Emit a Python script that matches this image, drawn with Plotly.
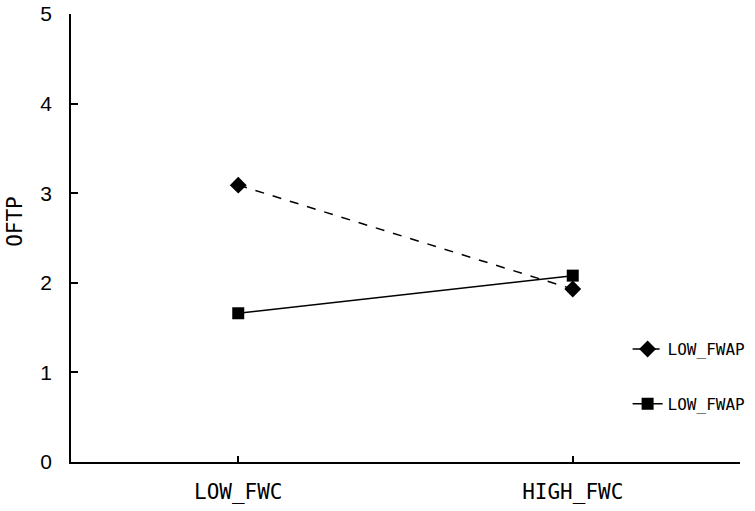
import plotly.graph_objects as go

categories = ["LOW_FWC", "HIGH_FWC"]
series_names = ["LOW_FWAP", "LOW_FWAP"]
dashed_values = [3.09, 1.93]
solid_values = [1.66, 2.08]
y_ticks = [0, 1, 2, 3, 4, 5]
y_title = "OFTP"

mono = "DejaVu Sans Mono"

fig = go.Figure()
fig.add_trace(go.Scatter(
    x=categories, y=dashed_values, name=series_names[0], mode="lines+markers",
    line=dict(color="black", width=1.5, dash="dash"),
    marker=dict(symbol="diamond", size=13, color="black"),
    legendgroup="a",
))
fig.add_trace(go.Scatter(
    x=categories, y=solid_values, name=series_names[1], mode="lines+markers",
    line=dict(color="black", width=1.5),
    marker=dict(symbol="square", size=12, color="black"),
    legendgroup="b",
))

fig.update_layout(
    width=755, height=511,
    margin=dict(l=71, r=15, t=14, b=49, autoexpand=False),
    plot_bgcolor="white", paper_bgcolor="white",
    showlegend=True,
    legend=dict(
        x=0.832, y=0.29, xanchor="left", yanchor="top",
        font=dict(family=mono, size=16, color="black"),
        tracegroupgap=31, traceorder="grouped",
        bgcolor="rgba(0,0,0,0)",
    ),
    xaxis=dict(
        type="category", range=[-0.5, 1.5], automargin=False,
        showline=True, linecolor="black", linewidth=1.5,
        ticks="inside", ticklen=6, tickcolor="black", tickwidth=1.5,
        showgrid=False, zeroline=False,
        tickfont=dict(family=mono, size=21, color="black"),
        ticklabelstandoff=10,
    ),
    yaxis=dict(
        range=[0, 5], tickvals=y_ticks, automargin=False,
        showline=True, linecolor="black", linewidth=1.5,
        ticks="inside", ticklen=7, tickcolor="black", tickwidth=1.5,
        showgrid=False, zeroline=False, ticklabeloverflow="allow",
        tickfont=dict(family="Liberation Sans", size=21, color="black"),
        ticklabelstandoff=13,
    ),
    annotations=[dict(
        text=y_title, xref="paper", yref="paper", x=0, y=0.536,
        xanchor="center", yanchor="middle", xshift=-56, textangle=-90,
        showarrow=False, font=dict(family=mono, size=21, color="black"),
    )],
)

fig.write_html(
    "out.html",
    config={"displayModeBar": False},
    post_script="document.body.style.margin='0';",
)
